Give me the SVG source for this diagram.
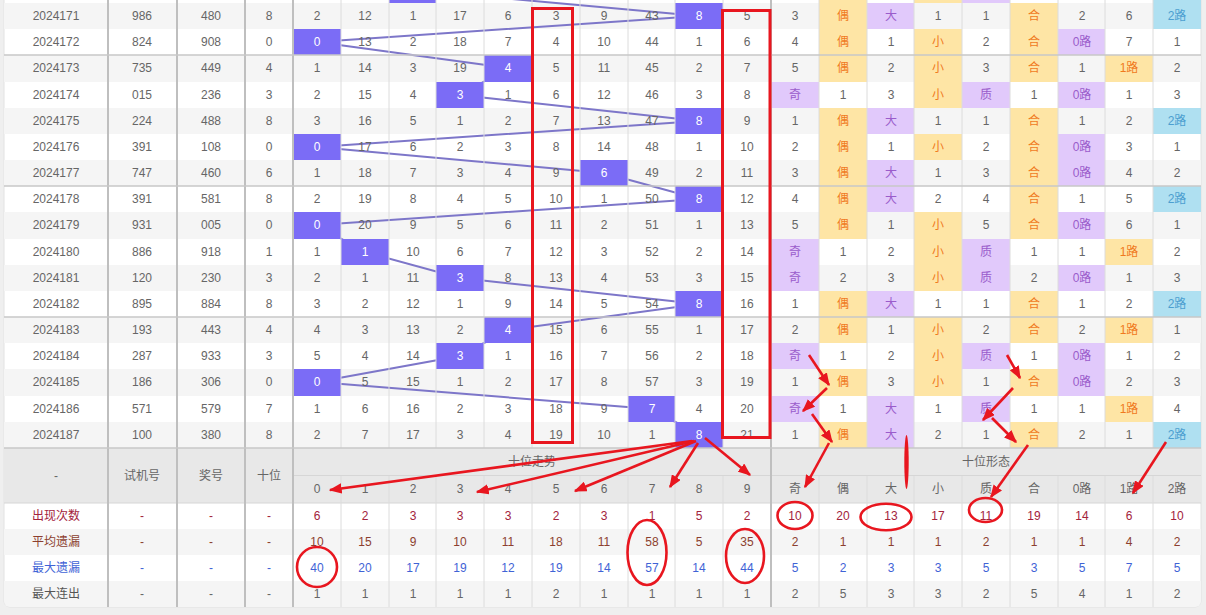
<svg xmlns="http://www.w3.org/2000/svg" width="1206" height="615" viewBox="0 0 1206 615">
<defs>
<style>
text{font-family:"Liberation Sans",Arial,"Noto Sans CJK SC",sans-serif;font-size:12px;text-anchor:middle;fill:#666}
.w{fill:#fff}
.o{fill:#f07a1e}
.pu{fill:#9a5ccb}
.bl{fill:#4c9fd0}
.Y{fill:#fee5a5}
.P{fill:#e1c9fb}
.B{fill:#afe0f1}
.H{fill:#7b6cf6}
.G{fill:#f5f5f5}
.hd{fill:#e8e8e8}
.tr{stroke:#7d76c9;stroke-width:2;fill:none}
.ann{stroke:#e8161f;stroke-width:3;fill:none}
.el{stroke:#e8161f;stroke-width:2.6;fill:none}
.ar{stroke:#e8161f;stroke-width:2.6;fill:none;marker-end:url(#ah)}
.vt{stroke:#dcdcdc;stroke-width:1}
.vT{stroke:#bfbfbf;stroke-width:2}
.hs{stroke:#c8c8c8;stroke-width:1.5}
.s1{fill:#a3233c}
.s2{fill:#8c3f2f}
.s3{fill:#3f63d6}
.s4{fill:#555}
</style>
<marker id="ah" viewBox="0 0 10 8" refX="9" refY="4" markerWidth="5" markerHeight="4" orient="auto" markerUnits="strokeWidth"><path d="M0,0 L10,4 L0,8 z" fill="#e8161f"/></marker>
<clipPath id="tb"><rect x="4" y="-20" width="1197" height="627" rx="6"/></clipPath>
</defs>
<rect width="1206" height="615" fill="#efefef"/>
<rect x="4" y="-20" width="1197" height="627" rx="6" fill="#fff" stroke="#e2e2e2"/>
<g clip-path="url(#tb)">
<g id="stripes">
<rect class="G" x="4" y="3" width="1197" height="26"/>
<rect class="G" x="4" y="55" width="1197" height="27"/>
<rect class="G" x="4" y="108" width="1197" height="26"/>
<rect class="G" x="4" y="160" width="1197" height="26"/>
<rect class="G" x="4" y="212" width="1197" height="27"/>
<rect class="G" x="4" y="265" width="1197" height="26"/>
<rect class="G" x="4" y="317" width="1197" height="26"/>
<rect class="G" x="4" y="369" width="1197" height="27"/>
<rect class="G" x="4" y="422" width="1197" height="26"/>
<rect class="G" x="4" y="529" width="1197" height="26"/>
<rect class="G" x="4" y="581" width="1197" height="30"/>
</g>
<g id="connectors">
<polyline class="tr" points="413,-10 699,16 317,42 508,68 460,95 699,121 317,147 604,173 699,199 317,225 365,252 460,278 699,304 508,330 460,356 317,382 652,409 699,435"/>
</g>
<g id="row2024170" transform="translate(0,-23)">
<rect class="H" x="389" width="47" height="26"/>
<rect class="Y" x="819" width="48" height="26"/>
<rect class="Y" x="914" width="48" height="26"/>
<rect class="P" x="962" width="48" height="26"/>
<rect class="B" x="1153" width="48" height="26"/>
</g>
<g id="row2024171" transform="translate(0,3)">
<rect class="H" x="675" width="48" height="26"/>
<rect class="Y" x="819" width="48" height="26"/><rect class="P" x="867" width="47" height="26"/><rect class="Y" x="1010" width="48" height="26"/><rect class="B" x="1153" width="48" height="26"/>
<text x="56" y="17">2024171</text><text x="142" y="17">986</text><text x="211" y="17">480</text><text x="269" y="17">8</text>
<text x="317" y="17">2</text><text x="365" y="17">12</text><text x="413" y="17">1</text><text x="460" y="17">17</text><text x="508" y="17">6</text><text x="556" y="17">3</text><text x="604" y="17">9</text><text x="652" y="17">43</text><text x="699" y="17" class="w">8</text><text x="747" y="17">5</text>
<text x="795" y="17">3</text><text x="843" y="17" class="o">偶</text><text x="891" y="17" class="pu">大</text><text x="938" y="17">1</text><text x="986" y="17">1</text><text x="1034" y="17" class="o">合</text><text x="1082" y="17">2</text><text x="1129" y="17">6</text><text x="1177" y="17" class="bl">2路</text>
</g>
<g id="row2024172" transform="translate(0,29)">
<rect class="H" x="293" width="48" height="26"/>
<rect class="Y" x="819" width="48" height="26"/><rect class="Y" x="914" width="48" height="26"/><rect class="Y" x="1010" width="48" height="26"/><rect class="P" x="1058" width="47" height="26"/>
<text x="56" y="17">2024172</text><text x="142" y="17">824</text><text x="211" y="17">908</text><text x="269" y="17">0</text>
<text x="317" y="17" class="w">0</text><text x="365" y="17">13</text><text x="413" y="17">2</text><text x="460" y="17">18</text><text x="508" y="17">7</text><text x="556" y="17">4</text><text x="604" y="17">10</text><text x="652" y="17">44</text><text x="699" y="17">1</text><text x="747" y="17">6</text>
<text x="795" y="17">4</text><text x="843" y="17" class="o">偶</text><text x="891" y="17">1</text><text x="938" y="17" class="o">小</text><text x="986" y="17">2</text><text x="1034" y="17" class="o">合</text><text x="1082" y="17" class="pu">0路</text><text x="1129" y="17">7</text><text x="1177" y="17">1</text>
</g>
<g id="row2024173" transform="translate(0,55)">
<rect class="H" x="484" width="48" height="27"/>
<rect class="Y" x="819" width="48" height="27"/><rect class="Y" x="914" width="48" height="27"/><rect class="Y" x="1010" width="48" height="27"/><rect class="Y" x="1105" width="48" height="27"/>
<text x="56" y="17">2024173</text><text x="142" y="17">735</text><text x="211" y="17">449</text><text x="269" y="17">4</text>
<text x="317" y="17">1</text><text x="365" y="17">14</text><text x="413" y="17">3</text><text x="460" y="17">19</text><text x="508" y="17" class="w">4</text><text x="556" y="17">5</text><text x="604" y="17">11</text><text x="652" y="17">45</text><text x="699" y="17">2</text><text x="747" y="17">7</text>
<text x="795" y="17">5</text><text x="843" y="17" class="o">偶</text><text x="891" y="17">2</text><text x="938" y="17" class="o">小</text><text x="986" y="17">3</text><text x="1034" y="17" class="o">合</text><text x="1082" y="17">1</text><text x="1129" y="17" class="o">1路</text><text x="1177" y="17">2</text>
</g>
<g id="row2024174" transform="translate(0,82)">
<rect class="H" x="436" width="48" height="26"/>
<rect class="P" x="771" width="48" height="26"/><rect class="Y" x="914" width="48" height="26"/><rect class="P" x="962" width="48" height="26"/><rect class="P" x="1058" width="47" height="26"/>
<text x="56" y="17">2024174</text><text x="142" y="17">015</text><text x="211" y="17">236</text><text x="269" y="17">3</text>
<text x="317" y="17">2</text><text x="365" y="17">15</text><text x="413" y="17">4</text><text x="460" y="17" class="w">3</text><text x="508" y="17">1</text><text x="556" y="17">6</text><text x="604" y="17">12</text><text x="652" y="17">46</text><text x="699" y="17">3</text><text x="747" y="17">8</text>
<text x="795" y="17" class="pu">奇</text><text x="843" y="17">1</text><text x="891" y="17">3</text><text x="938" y="17" class="o">小</text><text x="986" y="17" class="pu">质</text><text x="1034" y="17">1</text><text x="1082" y="17" class="pu">0路</text><text x="1129" y="17">1</text><text x="1177" y="17">3</text>
</g>
<g id="row2024175" transform="translate(0,108)">
<rect class="H" x="675" width="48" height="26"/>
<rect class="Y" x="819" width="48" height="26"/><rect class="P" x="867" width="47" height="26"/><rect class="Y" x="1010" width="48" height="26"/><rect class="B" x="1153" width="48" height="26"/>
<text x="56" y="17">2024175</text><text x="142" y="17">224</text><text x="211" y="17">488</text><text x="269" y="17">8</text>
<text x="317" y="17">3</text><text x="365" y="17">16</text><text x="413" y="17">5</text><text x="460" y="17">1</text><text x="508" y="17">2</text><text x="556" y="17">7</text><text x="604" y="17">13</text><text x="652" y="17">47</text><text x="699" y="17" class="w">8</text><text x="747" y="17">9</text>
<text x="795" y="17">1</text><text x="843" y="17" class="o">偶</text><text x="891" y="17" class="pu">大</text><text x="938" y="17">1</text><text x="986" y="17">1</text><text x="1034" y="17" class="o">合</text><text x="1082" y="17">1</text><text x="1129" y="17">2</text><text x="1177" y="17" class="bl">2路</text>
</g>
<g id="row2024176" transform="translate(0,134)">
<rect class="H" x="293" width="48" height="26"/>
<rect class="Y" x="819" width="48" height="26"/><rect class="Y" x="914" width="48" height="26"/><rect class="Y" x="1010" width="48" height="26"/><rect class="P" x="1058" width="47" height="26"/>
<text x="56" y="17">2024176</text><text x="142" y="17">391</text><text x="211" y="17">108</text><text x="269" y="17">0</text>
<text x="317" y="17" class="w">0</text><text x="365" y="17">17</text><text x="413" y="17">6</text><text x="460" y="17">2</text><text x="508" y="17">3</text><text x="556" y="17">8</text><text x="604" y="17">14</text><text x="652" y="17">48</text><text x="699" y="17">1</text><text x="747" y="17">10</text>
<text x="795" y="17">2</text><text x="843" y="17" class="o">偶</text><text x="891" y="17">1</text><text x="938" y="17" class="o">小</text><text x="986" y="17">2</text><text x="1034" y="17" class="o">合</text><text x="1082" y="17" class="pu">0路</text><text x="1129" y="17">3</text><text x="1177" y="17">1</text>
</g>
<g id="row2024177" transform="translate(0,160)">
<rect class="H" x="580" width="48" height="26"/>
<rect class="Y" x="819" width="48" height="26"/><rect class="P" x="867" width="47" height="26"/><rect class="Y" x="1010" width="48" height="26"/><rect class="P" x="1058" width="47" height="26"/>
<text x="56" y="17">2024177</text><text x="142" y="17">747</text><text x="211" y="17">460</text><text x="269" y="17">6</text>
<text x="317" y="17">1</text><text x="365" y="17">18</text><text x="413" y="17">7</text><text x="460" y="17">3</text><text x="508" y="17">4</text><text x="556" y="17">9</text><text x="604" y="17" class="w">6</text><text x="652" y="17">49</text><text x="699" y="17">2</text><text x="747" y="17">11</text>
<text x="795" y="17">3</text><text x="843" y="17" class="o">偶</text><text x="891" y="17" class="pu">大</text><text x="938" y="17">1</text><text x="986" y="17">3</text><text x="1034" y="17" class="o">合</text><text x="1082" y="17" class="pu">0路</text><text x="1129" y="17">4</text><text x="1177" y="17">2</text>
</g>
<g id="row2024178" transform="translate(0,186)">
<rect class="H" x="675" width="48" height="26"/>
<rect class="Y" x="819" width="48" height="26"/><rect class="P" x="867" width="47" height="26"/><rect class="Y" x="1010" width="48" height="26"/><rect class="B" x="1153" width="48" height="26"/>
<text x="56" y="17">2024178</text><text x="142" y="17">391</text><text x="211" y="17">581</text><text x="269" y="17">8</text>
<text x="317" y="17">2</text><text x="365" y="17">19</text><text x="413" y="17">8</text><text x="460" y="17">4</text><text x="508" y="17">5</text><text x="556" y="17">10</text><text x="604" y="17">1</text><text x="652" y="17">50</text><text x="699" y="17" class="w">8</text><text x="747" y="17">12</text>
<text x="795" y="17">4</text><text x="843" y="17" class="o">偶</text><text x="891" y="17" class="pu">大</text><text x="938" y="17">2</text><text x="986" y="17">4</text><text x="1034" y="17" class="o">合</text><text x="1082" y="17">1</text><text x="1129" y="17">5</text><text x="1177" y="17" class="bl">2路</text>
</g>
<g id="row2024179" transform="translate(0,212)">
<rect class="H" x="293" width="48" height="27"/>
<rect class="Y" x="819" width="48" height="27"/><rect class="Y" x="914" width="48" height="27"/><rect class="Y" x="1010" width="48" height="27"/><rect class="P" x="1058" width="47" height="27"/>
<text x="56" y="17">2024179</text><text x="142" y="17">931</text><text x="211" y="17">005</text><text x="269" y="17">0</text>
<text x="317" y="17" class="w">0</text><text x="365" y="17">20</text><text x="413" y="17">9</text><text x="460" y="17">5</text><text x="508" y="17">6</text><text x="556" y="17">11</text><text x="604" y="17">2</text><text x="652" y="17">51</text><text x="699" y="17">1</text><text x="747" y="17">13</text>
<text x="795" y="17">5</text><text x="843" y="17" class="o">偶</text><text x="891" y="17">1</text><text x="938" y="17" class="o">小</text><text x="986" y="17">5</text><text x="1034" y="17" class="o">合</text><text x="1082" y="17" class="pu">0路</text><text x="1129" y="17">6</text><text x="1177" y="17">1</text>
</g>
<g id="row2024180" transform="translate(0,239)">
<rect class="H" x="341" width="48" height="26"/>
<rect class="P" x="771" width="48" height="26"/><rect class="Y" x="914" width="48" height="26"/><rect class="P" x="962" width="48" height="26"/><rect class="Y" x="1105" width="48" height="26"/>
<text x="56" y="17">2024180</text><text x="142" y="17">886</text><text x="211" y="17">918</text><text x="269" y="17">1</text>
<text x="317" y="17">1</text><text x="365" y="17" class="w">1</text><text x="413" y="17">10</text><text x="460" y="17">6</text><text x="508" y="17">7</text><text x="556" y="17">12</text><text x="604" y="17">3</text><text x="652" y="17">52</text><text x="699" y="17">2</text><text x="747" y="17">14</text>
<text x="795" y="17" class="pu">奇</text><text x="843" y="17">1</text><text x="891" y="17">2</text><text x="938" y="17" class="o">小</text><text x="986" y="17" class="pu">质</text><text x="1034" y="17">1</text><text x="1082" y="17">1</text><text x="1129" y="17" class="o">1路</text><text x="1177" y="17">2</text>
</g>
<g id="row2024181" transform="translate(0,265)">
<rect class="H" x="436" width="48" height="26"/>
<rect class="P" x="771" width="48" height="26"/><rect class="Y" x="914" width="48" height="26"/><rect class="P" x="962" width="48" height="26"/><rect class="P" x="1058" width="47" height="26"/>
<text x="56" y="17">2024181</text><text x="142" y="17">120</text><text x="211" y="17">230</text><text x="269" y="17">3</text>
<text x="317" y="17">2</text><text x="365" y="17">1</text><text x="413" y="17">11</text><text x="460" y="17" class="w">3</text><text x="508" y="17">8</text><text x="556" y="17">13</text><text x="604" y="17">4</text><text x="652" y="17">53</text><text x="699" y="17">3</text><text x="747" y="17">15</text>
<text x="795" y="17" class="pu">奇</text><text x="843" y="17">2</text><text x="891" y="17">3</text><text x="938" y="17" class="o">小</text><text x="986" y="17" class="pu">质</text><text x="1034" y="17">2</text><text x="1082" y="17" class="pu">0路</text><text x="1129" y="17">1</text><text x="1177" y="17">3</text>
</g>
<g id="row2024182" transform="translate(0,291)">
<rect class="H" x="675" width="48" height="26"/>
<rect class="Y" x="819" width="48" height="26"/><rect class="P" x="867" width="47" height="26"/><rect class="Y" x="1010" width="48" height="26"/><rect class="B" x="1153" width="48" height="26"/>
<text x="56" y="17">2024182</text><text x="142" y="17">895</text><text x="211" y="17">884</text><text x="269" y="17">8</text>
<text x="317" y="17">3</text><text x="365" y="17">2</text><text x="413" y="17">12</text><text x="460" y="17">1</text><text x="508" y="17">9</text><text x="556" y="17">14</text><text x="604" y="17">5</text><text x="652" y="17">54</text><text x="699" y="17" class="w">8</text><text x="747" y="17">16</text>
<text x="795" y="17">1</text><text x="843" y="17" class="o">偶</text><text x="891" y="17" class="pu">大</text><text x="938" y="17">1</text><text x="986" y="17">1</text><text x="1034" y="17" class="o">合</text><text x="1082" y="17">1</text><text x="1129" y="17">2</text><text x="1177" y="17" class="bl">2路</text>
</g>
<g id="row2024183" transform="translate(0,317)">
<rect class="H" x="484" width="48" height="26"/>
<rect class="Y" x="819" width="48" height="26"/><rect class="Y" x="914" width="48" height="26"/><rect class="Y" x="1010" width="48" height="26"/><rect class="Y" x="1105" width="48" height="26"/>
<text x="56" y="17">2024183</text><text x="142" y="17">193</text><text x="211" y="17">443</text><text x="269" y="17">4</text>
<text x="317" y="17">4</text><text x="365" y="17">3</text><text x="413" y="17">13</text><text x="460" y="17">2</text><text x="508" y="17" class="w">4</text><text x="556" y="17">15</text><text x="604" y="17">6</text><text x="652" y="17">55</text><text x="699" y="17">1</text><text x="747" y="17">17</text>
<text x="795" y="17">2</text><text x="843" y="17" class="o">偶</text><text x="891" y="17">1</text><text x="938" y="17" class="o">小</text><text x="986" y="17">2</text><text x="1034" y="17" class="o">合</text><text x="1082" y="17">2</text><text x="1129" y="17" class="o">1路</text><text x="1177" y="17">1</text>
</g>
<g id="row2024184" transform="translate(0,343)">
<rect class="H" x="436" width="48" height="26"/>
<rect class="P" x="771" width="48" height="26"/><rect class="Y" x="914" width="48" height="26"/><rect class="P" x="962" width="48" height="26"/><rect class="P" x="1058" width="47" height="26"/>
<text x="56" y="17">2024184</text><text x="142" y="17">287</text><text x="211" y="17">933</text><text x="269" y="17">3</text>
<text x="317" y="17">5</text><text x="365" y="17">4</text><text x="413" y="17">14</text><text x="460" y="17" class="w">3</text><text x="508" y="17">1</text><text x="556" y="17">16</text><text x="604" y="17">7</text><text x="652" y="17">56</text><text x="699" y="17">2</text><text x="747" y="17">18</text>
<text x="795" y="17" class="pu">奇</text><text x="843" y="17">1</text><text x="891" y="17">2</text><text x="938" y="17" class="o">小</text><text x="986" y="17" class="pu">质</text><text x="1034" y="17">1</text><text x="1082" y="17" class="pu">0路</text><text x="1129" y="17">1</text><text x="1177" y="17">2</text>
</g>
<g id="row2024185" transform="translate(0,369)">
<rect class="H" x="293" width="48" height="27"/>
<rect class="Y" x="819" width="48" height="27"/><rect class="Y" x="914" width="48" height="27"/><rect class="Y" x="1010" width="48" height="27"/><rect class="P" x="1058" width="47" height="27"/>
<text x="56" y="17">2024185</text><text x="142" y="17">186</text><text x="211" y="17">306</text><text x="269" y="17">0</text>
<text x="317" y="17" class="w">0</text><text x="365" y="17">5</text><text x="413" y="17">15</text><text x="460" y="17">1</text><text x="508" y="17">2</text><text x="556" y="17">17</text><text x="604" y="17">8</text><text x="652" y="17">57</text><text x="699" y="17">3</text><text x="747" y="17">19</text>
<text x="795" y="17">1</text><text x="843" y="17" class="o">偶</text><text x="891" y="17">3</text><text x="938" y="17" class="o">小</text><text x="986" y="17">1</text><text x="1034" y="17" class="o">合</text><text x="1082" y="17" class="pu">0路</text><text x="1129" y="17">2</text><text x="1177" y="17">3</text>
</g>
<g id="row2024186" transform="translate(0,396)">
<rect class="H" x="628" width="47" height="26"/>
<rect class="P" x="771" width="48" height="26"/><rect class="P" x="867" width="47" height="26"/><rect class="P" x="962" width="48" height="26"/><rect class="Y" x="1105" width="48" height="26"/>
<text x="56" y="17">2024186</text><text x="142" y="17">571</text><text x="211" y="17">579</text><text x="269" y="17">7</text>
<text x="317" y="17">1</text><text x="365" y="17">6</text><text x="413" y="17">16</text><text x="460" y="17">2</text><text x="508" y="17">3</text><text x="556" y="17">18</text><text x="604" y="17">9</text><text x="652" y="17" class="w">7</text><text x="699" y="17">4</text><text x="747" y="17">20</text>
<text x="795" y="17" class="pu">奇</text><text x="843" y="17">1</text><text x="891" y="17" class="pu">大</text><text x="938" y="17">1</text><text x="986" y="17" class="pu">质</text><text x="1034" y="17">1</text><text x="1082" y="17">1</text><text x="1129" y="17" class="o">1路</text><text x="1177" y="17">4</text>
</g>
<g id="row2024187" transform="translate(0,422)">
<rect class="H" x="675" width="48" height="26"/>
<rect class="Y" x="819" width="48" height="26"/><rect class="P" x="867" width="47" height="26"/><rect class="Y" x="1010" width="48" height="26"/><rect class="B" x="1153" width="48" height="26"/>
<text x="56" y="17">2024187</text><text x="142" y="17">100</text><text x="211" y="17">380</text><text x="269" y="17">8</text>
<text x="317" y="17">2</text><text x="365" y="17">7</text><text x="413" y="17">17</text><text x="460" y="17">3</text><text x="508" y="17">4</text><text x="556" y="17">19</text><text x="604" y="17">10</text><text x="652" y="17">1</text><text x="699" y="17" class="w">8</text><text x="747" y="17">21</text>
<text x="795" y="17">1</text><text x="843" y="17" class="o">偶</text><text x="891" y="17" class="pu">大</text><text x="938" y="17">2</text><text x="986" y="17">1</text><text x="1034" y="17" class="o">合</text><text x="1082" y="17">2</text><text x="1129" y="17">1</text><text x="1177" y="17" class="bl">2路</text>
</g>
<g id="header">
<rect class="hd" x="4" y="448" width="1197" height="55"/>
<line x1="293" y1="475.5" x2="1201" y2="475.5" stroke="#d6d6d6"/>
<line x1="4" y1="503" x2="1201" y2="503" stroke="#d6d6d6"/>
<text x="56" y="480">-</text><text x="142" y="480">试机号</text><text x="211" y="480">奖号</text><text x="269" y="480">十位</text>
<text x="532" y="466">十位走势</text><text x="986" y="466">十位形态</text>
<text x="317" y="493">0</text><text x="365" y="493">1</text><text x="413" y="493">2</text><text x="460" y="493">3</text><text x="508" y="493">4</text><text x="556" y="493">5</text><text x="604" y="493">6</text><text x="652" y="493">7</text><text x="699" y="493">8</text><text x="747" y="493">9</text>
<text x="795" y="493">奇</text><text x="843" y="493">偶</text><text x="891" y="493">大</text><text x="938" y="493">小</text><text x="986" y="493">质</text><text x="1034" y="493">合</text><text x="1082" y="493">0路</text><text x="1129" y="493">1路</text><text x="1177" y="493">2路</text>
</g>
<g id="stats">
<g id="stat-count" class="s1">
<text class="s1" x="56" y="520">出现次数</text><text class="s1" x="142" y="520">-</text><text class="s1" x="211" y="520">-</text><text class="s1" x="269" y="520">-</text>
<text class="s1" x="317" y="520">6</text><text class="s1" x="365" y="520">2</text><text class="s1" x="413" y="520">3</text><text class="s1" x="460" y="520">3</text><text class="s1" x="508" y="520">3</text><text class="s1" x="556" y="520">2</text><text class="s1" x="604" y="520">3</text><text class="s1" x="652" y="520">1</text><text class="s1" x="699" y="520">5</text><text class="s1" x="747" y="520">2</text>
<text class="s1" x="795" y="520">10</text><text class="s1" x="843" y="520">20</text><text class="s1" x="891" y="520">13</text><text class="s1" x="938" y="520">17</text><text class="s1" x="986" y="520">11</text><text class="s1" x="1034" y="520">19</text><text class="s1" x="1082" y="520">14</text><text class="s1" x="1129" y="520">6</text><text class="s1" x="1177" y="520">10</text>
</g>
<g id="stat-avg">
<text class="s2" x="56" y="546">平均遗漏</text><text class="s2" x="142" y="546">-</text><text class="s2" x="211" y="546">-</text><text class="s2" x="269" y="546">-</text>
<text class="s2" x="317" y="546">10</text><text class="s2" x="365" y="546">15</text><text class="s2" x="413" y="546">9</text><text class="s2" x="460" y="546">10</text><text class="s2" x="508" y="546">11</text><text class="s2" x="556" y="546">18</text><text class="s2" x="604" y="546">11</text><text class="s2" x="652" y="546">58</text><text class="s2" x="699" y="546">5</text><text class="s2" x="747" y="546">35</text>
<text class="s2" x="795" y="546">2</text><text class="s2" x="843" y="546">1</text><text class="s2" x="891" y="546">1</text><text class="s2" x="938" y="546">1</text><text class="s2" x="986" y="546">2</text><text class="s2" x="1034" y="546">1</text><text class="s2" x="1082" y="546">1</text><text class="s2" x="1129" y="546">4</text><text class="s2" x="1177" y="546">2</text>
</g>
<g id="stat-max">
<text class="s3" x="56" y="572">最大遗漏</text><text class="s3" x="142" y="572">-</text><text class="s3" x="211" y="572">-</text><text class="s3" x="269" y="572">-</text>
<text class="s3" x="317" y="572">40</text><text class="s3" x="365" y="572">20</text><text class="s3" x="413" y="572">17</text><text class="s3" x="460" y="572">19</text><text class="s3" x="508" y="572">12</text><text class="s3" x="556" y="572">19</text><text class="s3" x="604" y="572">14</text><text class="s3" x="652" y="572">57</text><text class="s3" x="699" y="572">14</text><text class="s3" x="747" y="572">44</text>
<text class="s3" x="795" y="572">5</text><text class="s3" x="843" y="572">2</text><text class="s3" x="891" y="572">3</text><text class="s3" x="938" y="572">3</text><text class="s3" x="986" y="572">5</text><text class="s3" x="1034" y="572">3</text><text class="s3" x="1082" y="572">5</text><text class="s3" x="1129" y="572">7</text><text class="s3" x="1177" y="572">5</text>
</g>
<g id="stat-streak">
<text class="s4" x="56" y="598">最大连出</text><text x="142" y="598">-</text><text x="211" y="598">-</text><text x="269" y="598">-</text>
<text x="317" y="598">1</text><text x="365" y="598">1</text><text x="413" y="598">1</text><text x="460" y="598">1</text><text x="508" y="598">1</text><text x="556" y="598">2</text><text x="604" y="598">1</text><text x="652" y="598">1</text><text x="699" y="598">1</text><text x="747" y="598">1</text>
<text x="795" y="598">2</text><text x="843" y="598">5</text><text x="891" y="598">3</text><text x="938" y="598">3</text><text x="986" y="598">2</text><text x="1034" y="598">5</text><text x="1082" y="598">4</text><text x="1129" y="598">1</text><text x="1177" y="598">2</text>
</g>
</g>
<g id="grid">
<path class="vt" d="M341,-20V448M389,-20V448M436,-20V448M484,-20V448M532,-20V448M580,-20V448M628,-20V448M675,-20V448M723,-20V448M819,-20V448M867,-20V448M914,-20V448M962,-20V448M1010,-20V448M1058,-20V448M1105,-20V448M1153,-20V448"/>
<path class="vt" d="M341,476V610M389,476V610M436,476V610M484,476V610M532,476V610M580,476V610M628,476V610M675,476V610M723,476V610M819,476V610M867,476V610M914,476V610M962,476V610M1010,476V610M1058,476V610M1105,476V610M1153,476V610"/>
<path class="vT" d="M108,-20V610M177,-20V610M245,-20V610M293,-20V610M771,-20V610"/>
<path class="hs" d="M4,55H1201M4,186H1201M4,317H1201M4,448H1201"/>
</g>
</g>
<g id="annotations">
<rect class="ann" x="532.5" y="8.5" width="40" height="434"/>
<rect class="ann" x="722.5" y="10.5" width="47.5" height="427"/>
<ellipse class="el" cx="317" cy="567" rx="20" ry="20"/>
<ellipse class="el" cx="647" cy="552.5" rx="19.5" ry="32.5"/>
<ellipse class="el" cx="745" cy="556" rx="19" ry="27"/>
<ellipse class="el" cx="795" cy="515.5" rx="17.5" ry="13.5"/>
<ellipse class="el" cx="886" cy="517" rx="25.5" ry="13.3"/>
<ellipse class="el" cx="985.5" cy="510" rx="16.5" ry="12"/>
<ellipse cx="906.5" cy="462" rx="2.2" ry="27" fill="#e8161f"/>
<line class="ar" x1="692" y1="441" x2="330" y2="490"/>
<line class="ar" x1="694" y1="441" x2="477" y2="492"/>
<line class="ar" x1="696" y1="441" x2="575" y2="491"/>
<line class="ar" x1="698" y1="443" x2="670" y2="487"/>
<line class="ar" x1="705" y1="438" x2="750" y2="475"/>
<line class="ar" x1="809" y1="355" x2="829" y2="385"/>
<line class="ar" x1="827" y1="388" x2="803" y2="411"/>
<line class="ar" x1="812" y1="414" x2="832" y2="442"/>
<line class="ar" x1="829" y1="443" x2="805" y2="487"/>
<line class="ar" x1="1007" y1="355" x2="1020" y2="378"/>
<line class="ar" x1="1013" y1="388" x2="983" y2="420"/>
<line class="ar" x1="992" y1="418" x2="1016" y2="442"/>
<line class="ar" x1="1028" y1="445" x2="991" y2="497"/>
<line class="ar" x1="1166" y1="442" x2="1133" y2="493"/>
</g>
</svg>
